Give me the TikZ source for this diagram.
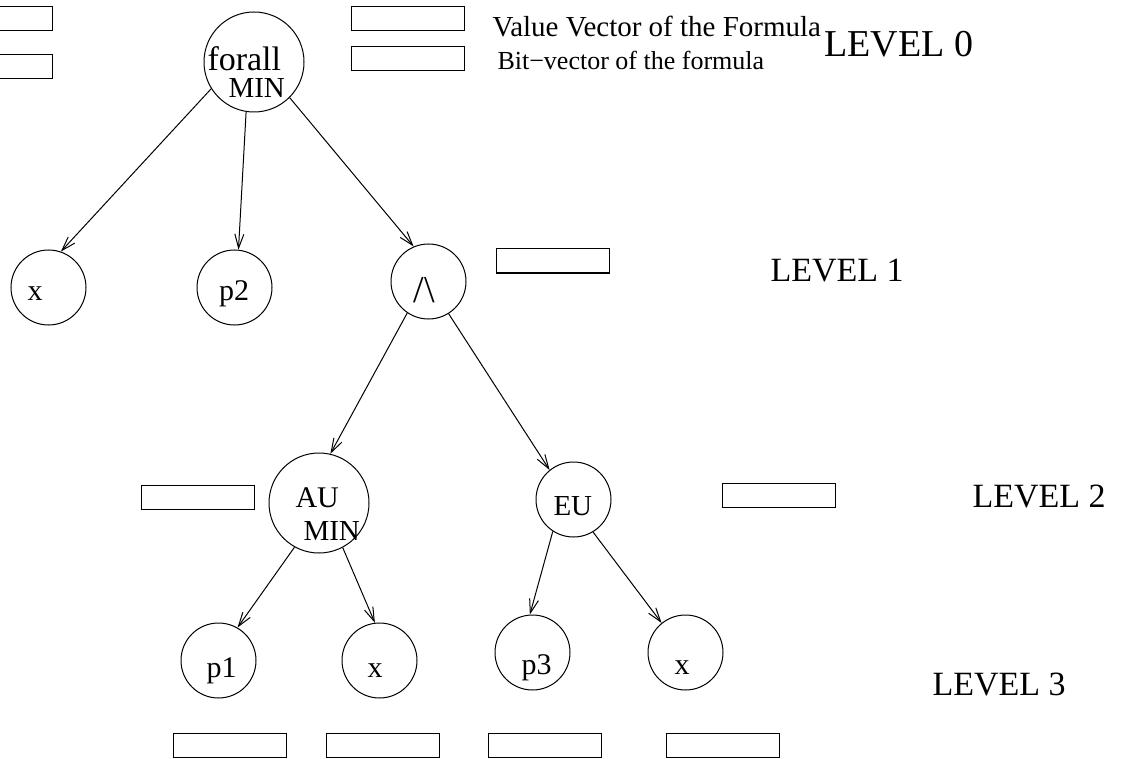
\documentclass[tikz,border=0pt]{standalone}
\usepackage{fontspec}
\setmainfont{Liberation Serif}
\usetikzlibrary{arrows.meta}
\begin{document}
\begin{tikzpicture}[x=1pt,y=-1pt,line width=1pt,
  big/.style={circle,draw,inner sep=0pt,minimum size=100pt},
  leaf/.style={circle,draw,inner sep=0pt,minimum size=75pt},
  vecbox/.style={draw,inner sep=0pt,minimum width=113pt,minimum height=24pt},
  txt/.style={inner sep=0pt,anchor=base west},
  ctxt/.style={inner sep=0pt,anchor=base},
  f34/.style={font=\fontsize{34}{40}\selectfont},
  f30/.style={font=\fontsize{30}{36}\selectfont},
  f29/.style={font=\fontsize{29}{35}\selectfont},
  edge/.style={-{Straight Barb[length=14pt,width=9pt,line width=1pt]}}]
\useasboundingbox (0,0) rectangle (1129,759);

% tree nodes
\node[big]  (forall) at (254,62)    {};
\node[leaf] (x1)     at (48.5,287.5) {};
\node[leaf] (p2)     at (234.5,287.5) {};
\node[leaf] (and)    at (428.5,281.5) {};
\node[big]  (au)     at (319,503)   {};
\node[leaf] (eu)     at (573.5,499.5) {};
\node[leaf] (p1)     at (218.5,660.5) {};
\node[leaf] (x2)     at (379.5,660.5) {};
\node[leaf] (p3)     at (532.5,652.5) {};
\node[leaf] (x3)     at (685.5,652.5) {};

% node texts
\node[txt,f34] (tforall) at (207,71) {forall};
\node[txt,f29] (tmin0)   at (228,98) {MIN};
\node[ctxt,f30] (tx1)    at (35,300) {x};
\node[ctxt,f30] (tp2)    at (234,300) {p2};
\node[txt,font=\fontsize{38}{44}\selectfont] (tand) at (413,302) {/\textbackslash};
\node[txt,f30] (tau)     at (295,507) {AU};
\node[txt,f29] (tmin2)   at (303,540) {MIN};
\node[txt,f29] (teu)     at (553,515) {EU};
\node[txt,f30] (tp1)     at (206,677) {p1};
\node[ctxt,f30] (tx2)    at (375,677) {x};
\node[txt,f30] (tp3)     at (521,674) {p3};
\node[ctxt,f30] (tx3)    at (682,674) {x};

% connectors
\draw[edge] (forall.212) -- (x1.71);
\draw[edge] (forall.261) -- (p2.84);
\draw[edge] (forall.-45) -- (and.113);
\draw[edge] (and.236) -- (au.77);
\draw[edge] (and.-58) -- (eu.129);
\draw[edge] (au.241) -- (p1.60);
\draw[edge] (au.-62) -- (x2.97);
\draw[edge] (eu.237) -- (p3.94);
\draw[edge] (eu.-59) -- (x3.129);

% vectors
\node[vecbox] (v0a) at (-4.5,19) {};
\node[vecbox] (v0b) at (-4.5,67) {};
\node[vecbox] (lega) at (408,19) {};
\node[vecbox] (legb) at (408,59) {};
\node[vecbox] (v1)  at (552.5,261) {};
\node[vecbox] (v2a) at (197.5,497) {};
\node[vecbox] (v2b) at (778.5,495) {};
\node[vecbox] (v3a) at (230,745.5) {};
\node[vecbox] (v3b) at (383,745.5) {};
\node[vecbox] (v3c) at (544.5,745.5) {};
\node[vecbox] (v3d) at (722.5,745.5) {};

% legend and level labels
\node[txt,font=\fontsize{29}{34}\selectfont] (legvalue) at (492,37) {Value Vector of the Formula};
\node[txt,font=\fontsize{26}{31}\selectfont] (legbit) at (497,70) {Bit−vector of the formula};
\node[txt,font=\fontsize{38}{44}\selectfont] (lev0) at (824,57) {LEVEL 0};
\node[txt,f34] (lev1) at (770,281) {LEVEL 1};
\node[txt,f34] (lev2) at (972,507) {LEVEL 2};
\node[txt,f34] (lev3) at (932,695) {LEVEL 3};
\end{tikzpicture}
\end{document}
